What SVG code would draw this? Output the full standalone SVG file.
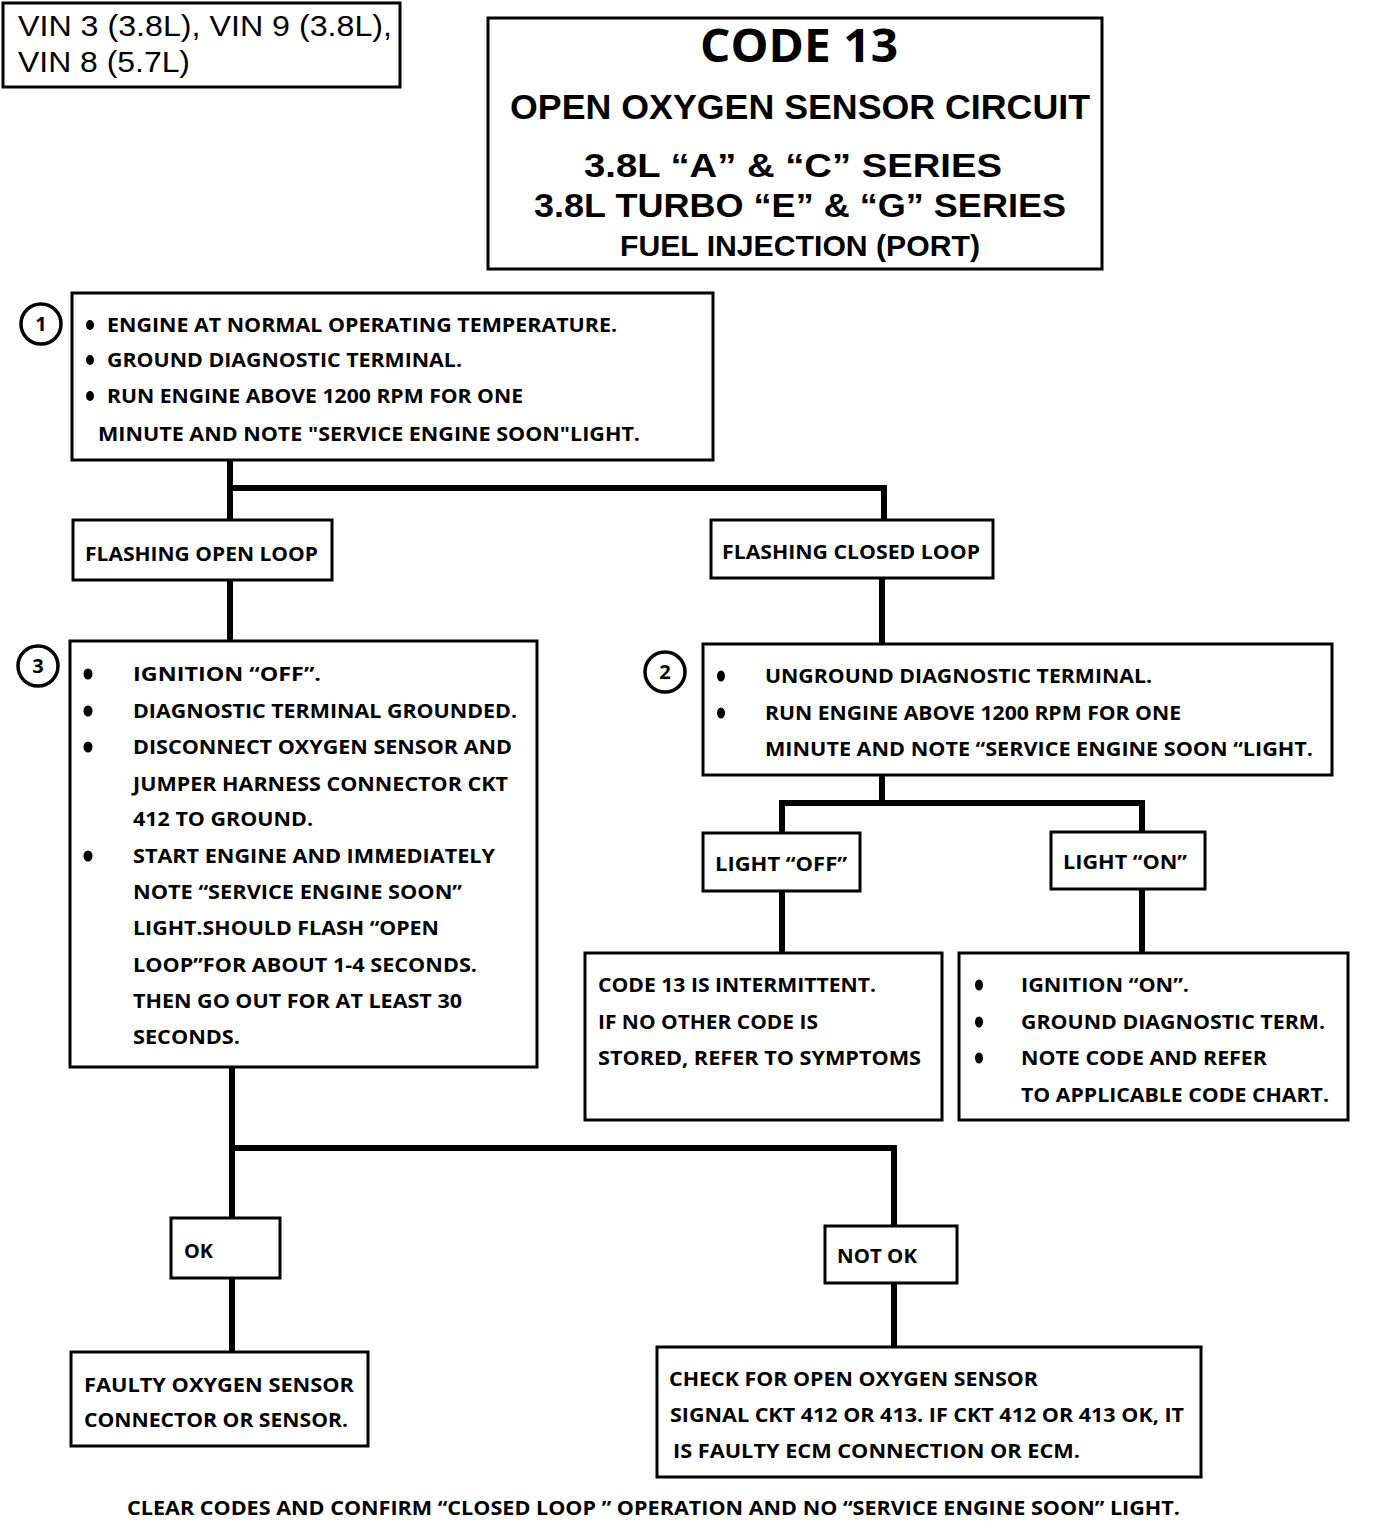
<svg xmlns="http://www.w3.org/2000/svg" width="1376" height="1530" viewBox="0 0 1376 1530">
<style>
.box{fill:#fff;stroke:#000;stroke-width:3}
.num{fill:#fff;stroke:#000;stroke-width:3.5}
.c{fill:none;stroke:#000;stroke-width:6;stroke-linecap:square}
.t{font-family:"Open Sans","Liberation Sans",sans-serif;font-weight:700;font-size:20px;fill:#000}
.h{font-family:"Open Sans","Liberation Sans",sans-serif;font-weight:700;fill:#000}
.h2{font-family:"Liberation Sans",Arial,sans-serif;font-weight:700;fill:#000}
.v{font-family:"Liberation Sans",Arial,sans-serif;font-size:30px;fill:#000}
.n{font-family:"Open Sans","Liberation Sans",sans-serif;font-weight:700;font-size:20px;fill:#000;text-anchor:middle}
.b{fill:#000}
</style>
<rect width="1376" height="1530" fill="#fff"/>
<g id="connectors">
<path class="c" d="M230 462 V640 M230 488 H884 V520 M882 580 V643 M882 777 V803 M782 803 H1142 V832 M782 803 V833 M782 893 V953 M1142 891 V953 M232 1069 V1218 M232 1148 H894 V1226 M232 1280 V1352 M894 1285 V1347"/>
</g>
<g id="vin">
<rect class="box" x="3" y="3" width="397" height="84"/>
<text class="v" x="18" y="36" textLength="374" lengthAdjust="spacingAndGlyphs">VIN 3 (3.8L), VIN 9 (3.8L),</text>
<text class="v" x="18" y="72" textLength="172" lengthAdjust="spacingAndGlyphs">VIN 8 (5.7L)</text>
</g>
<g id="title">
<rect class="box" x="488" y="18" width="614" height="251"/>
<text class="h" x="700" y="62" font-size="46" textLength="198" lengthAdjust="spacingAndGlyphs">CODE 13</text>
<text class="h2" x="510" y="119" font-size="35" textLength="580" lengthAdjust="spacingAndGlyphs">OPEN OXYGEN SENSOR CIRCUIT</text>
<text class="h2" x="584" y="177" font-size="34" textLength="418" lengthAdjust="spacingAndGlyphs">3.8L  “A” &amp; “C” SERIES</text>
<text class="h2" x="534" y="217" font-size="34" textLength="532" lengthAdjust="spacingAndGlyphs">3.8L TURBO “E” &amp; “G” SERIES</text>
<text class="h2" x="620" y="256" font-size="30" textLength="360" lengthAdjust="spacingAndGlyphs">FUEL INJECTION (PORT)</text>
</g>
<g id="step1">
<circle class="num" cx="41" cy="324" r="20"/>
<text class="n" x="41" y="331">1</text>
<rect class="box" x="72" y="293" width="641" height="167"/>
<ellipse class="b" cx="90" cy="325" rx="4" ry="5"/>
<ellipse class="b" cx="90" cy="360" rx="4" ry="5"/>
<ellipse class="b" cx="90" cy="396" rx="4" ry="5"/>
<text class="t" x="107" y="332" textLength="510" lengthAdjust="spacingAndGlyphs">ENGINE AT NORMAL OPERATING TEMPERATURE.</text>
<text class="t" x="107" y="367" textLength="355" lengthAdjust="spacingAndGlyphs">GROUND DIAGNOSTIC TERMINAL.</text>
<text class="t" x="107" y="403" textLength="416" lengthAdjust="spacingAndGlyphs">RUN ENGINE ABOVE 1200 RPM FOR ONE</text>
<text class="t" x="98" y="441" textLength="542" lengthAdjust="spacingAndGlyphs">MINUTE AND NOTE "SERVICE ENGINE SOON"LIGHT.</text>
</g>
<g id="flashing-open">
<rect class="box" x="73" y="520" width="259" height="60"/>
<text class="t" x="85" y="561" textLength="233" lengthAdjust="spacingAndGlyphs">FLASHING OPEN LOOP</text>
</g>
<g id="flashing-closed">
<rect class="box" x="711" y="520" width="282" height="58"/>
<text class="t" x="722" y="559" textLength="258" lengthAdjust="spacingAndGlyphs">FLASHING CLOSED LOOP</text>
</g>
<g id="step3">
<circle class="num" cx="38" cy="666" r="20"/>
<text class="n" x="38" y="673">3</text>
<rect class="box" x="70" y="641" width="467" height="426"/>
<ellipse class="b" cx="88" cy="674" rx="4.5" ry="5.5"/>
<ellipse class="b" cx="88" cy="711" rx="4.5" ry="5.5"/>
<ellipse class="b" cx="88" cy="747" rx="4.5" ry="5.5"/>
<ellipse class="b" cx="88" cy="856" rx="4.5" ry="5.5"/>
<text class="t" x="133" y="681" textLength="188" lengthAdjust="spacingAndGlyphs">IGNITION “OFF”.</text>
<text class="t" x="133" y="718" textLength="384" lengthAdjust="spacingAndGlyphs">DIAGNOSTIC TERMINAL GROUNDED.</text>
<text class="t" x="133" y="754" textLength="379" lengthAdjust="spacingAndGlyphs">DISCONNECT OXYGEN SENSOR AND</text>
<text class="t" x="133" y="791" textLength="375" lengthAdjust="spacingAndGlyphs">JUMPER HARNESS CONNECTOR CKT</text>
<text class="t" x="133" y="826" textLength="180" lengthAdjust="spacingAndGlyphs">412 TO GROUND.</text>
<text class="t" x="133" y="863" textLength="362" lengthAdjust="spacingAndGlyphs">START ENGINE AND IMMEDIATELY</text>
<text class="t" x="133" y="899" textLength="329" lengthAdjust="spacingAndGlyphs">NOTE “SERVICE ENGINE SOON”</text>
<text class="t" x="133" y="935" textLength="306" lengthAdjust="spacingAndGlyphs">LIGHT.SHOULD FLASH “OPEN</text>
<text class="t" x="133" y="972" textLength="344" lengthAdjust="spacingAndGlyphs">LOOP”FOR ABOUT 1-4 SECONDS.</text>
<text class="t" x="133" y="1008" textLength="329" lengthAdjust="spacingAndGlyphs">THEN GO OUT FOR AT LEAST 30</text>
<text class="t" x="133" y="1044" textLength="107" lengthAdjust="spacingAndGlyphs">SECONDS.</text>
</g>
<g id="step2">
<circle class="num" cx="665" cy="672" r="20"/>
<text class="n" x="665" y="679">2</text>
<rect class="box" x="703" y="644" width="629" height="131"/>
<ellipse class="b" cx="721" cy="676" rx="4" ry="5.5"/>
<ellipse class="b" cx="721" cy="713" rx="4" ry="5.5"/>
<text class="t" x="765" y="683" textLength="387" lengthAdjust="spacingAndGlyphs">UNGROUND DIAGNOSTIC TERMINAL.</text>
<text class="t" x="765" y="720" textLength="416" lengthAdjust="spacingAndGlyphs">RUN ENGINE ABOVE 1200 RPM FOR ONE</text>
<text class="t" x="765" y="756" textLength="548" lengthAdjust="spacingAndGlyphs">MINUTE  AND NOTE “SERVICE ENGINE SOON “LIGHT.</text>
</g>
<g id="light-off">
<rect class="box" x="703" y="833" width="157" height="58"/>
<text class="t" x="715" y="871" textLength="132" lengthAdjust="spacingAndGlyphs">LIGHT “OFF”</text>
</g>
<g id="light-on">
<rect class="box" x="1051" y="832" width="154" height="57"/>
<text class="t" x="1063" y="869" textLength="124" lengthAdjust="spacingAndGlyphs">LIGHT “ON”</text>
</g>
<g id="intermittent">
<rect class="box" x="585" y="953" width="357" height="167"/>
<text class="t" x="598" y="992" textLength="278" lengthAdjust="spacingAndGlyphs">CODE 13 IS INTERMITTENT.</text>
<text class="t" x="598" y="1029" textLength="220" lengthAdjust="spacingAndGlyphs">IF NO OTHER CODE IS</text>
<text class="t" x="598" y="1065" textLength="323" lengthAdjust="spacingAndGlyphs">STORED, REFER TO SYMPTOMS</text>
</g>
<g id="ignition-on">
<rect class="box" x="959" y="953" width="389" height="167"/>
<ellipse class="b" cx="979" cy="985" rx="4" ry="5.5"/>
<ellipse class="b" cx="979" cy="1022" rx="4" ry="5.5"/>
<ellipse class="b" cx="979" cy="1058" rx="4" ry="5.5"/>
<text class="t" x="1021" y="992" textLength="168" lengthAdjust="spacingAndGlyphs">IGNITION “ON”.</text>
<text class="t" x="1021" y="1029" textLength="304" lengthAdjust="spacingAndGlyphs">GROUND DIAGNOSTIC TERM.</text>
<text class="t" x="1021" y="1065" textLength="246" lengthAdjust="spacingAndGlyphs">NOTE CODE AND REFER</text>
<text class="t" x="1021" y="1102" textLength="308" lengthAdjust="spacingAndGlyphs">TO APPLICABLE CODE CHART.</text>
</g>
<g id="ok">
<rect class="box" x="171" y="1218" width="109" height="60"/>
<text class="t" x="184" y="1258" textLength="29" lengthAdjust="spacingAndGlyphs">OK</text>
</g>
<g id="not-ok">
<rect class="box" x="825" y="1226" width="132" height="57"/>
<text class="t" x="837" y="1263" textLength="80" lengthAdjust="spacingAndGlyphs">NOT OK</text>
</g>
<g id="faulty">
<rect class="box" x="71" y="1352" width="297" height="94"/>
<text class="t" x="84" y="1392" textLength="270" lengthAdjust="spacingAndGlyphs">FAULTY OXYGEN SENSOR</text>
<text class="t" x="84" y="1427" textLength="264" lengthAdjust="spacingAndGlyphs">CONNECTOR OR SENSOR.</text>
</g>
<g id="check">
<rect class="box" x="657" y="1347" width="544" height="130"/>
<text class="t" x="669" y="1386" textLength="369" lengthAdjust="spacingAndGlyphs">CHECK FOR OPEN OXYGEN SENSOR</text>
<text class="t" x="670" y="1422" textLength="514" lengthAdjust="spacingAndGlyphs">SIGNAL CKT 412 OR 413.  IF CKT 412 OR 413 OK, IT</text>
<text class="t" x="673" y="1458" textLength="407" lengthAdjust="spacingAndGlyphs">IS FAULTY  ECM CONNECTION OR ECM.</text>
</g>
<g id="footer">
<text class="t" x="127" y="1515" textLength="1053" lengthAdjust="spacingAndGlyphs">CLEAR CODES AND CONFIRM “CLOSED LOOP ” OPERATION AND NO “SERVICE ENGINE SOON” LIGHT.</text>
</g>
</svg>
